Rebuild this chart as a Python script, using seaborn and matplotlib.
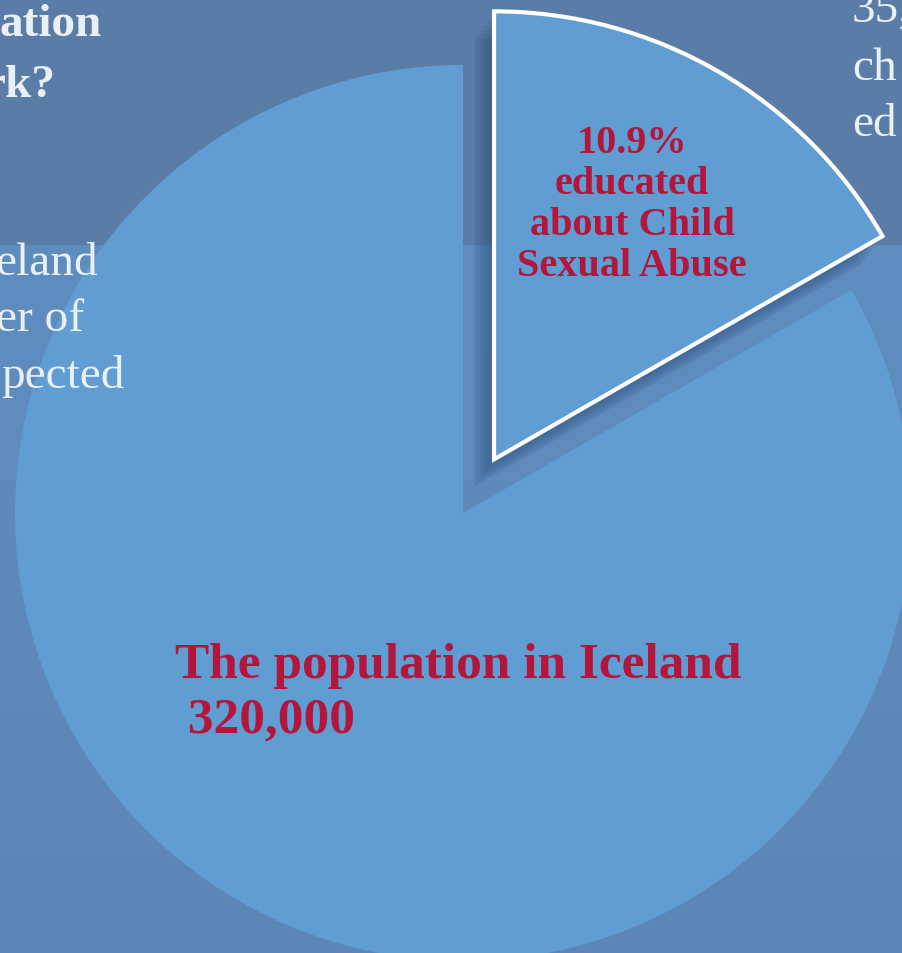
import matplotlib

matplotlib.use("Agg")
import matplotlib.pyplot as plt  # noqa: E402
import matplotlib.colors as mcolors  # noqa: E402
import numpy as np  # noqa: E402
import seaborn as sns  # noqa: E402

# Slice shares as drawn (the cut-out wedge spans about a sixth of the circle)
slice_names = ["educated", "population"]
slice_shares = [16.7, 83.3]
wedge_label = "10.9%\neducated\nabout Child\nSexual Abuse"
main_label = ["The population in Iceland", " 320,000"]

# Fragments of the slide text around the chart (cropped by the frame)
left_heading = ["ation", "rk?"]
left_body = ["eland", "er of", "pected"]
right_body = ["35,", "ch", "ed"]

W, H = 902, 954
BG_TOP = "#5a7da7"
BG_LOW_A = "#5c86b6"
BG_LOW_B = "#5f8dbf"
PIE = "#5f9dd3"
RED = "#b3163a"
LIGHT = "#e9f0f7"

sns.set_theme(style="white")
plt.rcParams["font.family"] = ["Liberation Serif", "DejaVu Serif"]

fig = plt.figure(figsize=(W / 100, H / 100), dpi=100)
ax = fig.add_axes([0, 0, 1, 1])
fig.patch.set_facecolor(BG_TOP)

# lower part of the slide is a bit bluer
grad = np.linspace(0, 1, 200)[:, None]
cmap = mcolors.LinearSegmentedColormap.from_list("bg", [BG_LOW_B, BG_LOW_A])
ax.imshow(grad, extent=(0, W, 0, H - 245), cmap=cmap, aspect="auto", zorder=0)
ax.add_patch(plt.Rectangle((0, H - 245), W, 245, color=BG_TOP, zorder=0.5))

cx, cy, R = 463, H - 514, 448
explode = [62, 0]  # matplotlib uses data units for the offset here

# soft shadow of the pulled-out wedge
for i, a in enumerate([0.06, 0.07, 0.08, 0.09, 0.10, 0.12]):
    d = 5 + 4 * i
    sh, _ = ax.pie(
        slice_shares, radius=R, center=(cx - d * 0.8, cy - d * 1.1), startangle=90,
        counterclock=False, explode=explode, colors=["#1f416a", "none"],
        wedgeprops={"linewidth": 0, "alpha": a}, frame=True,
    )
    for w in sh:
        w.set_zorder(2)

wedges, _ = ax.pie(
    slice_shares, radius=R, center=(cx, cy), startangle=90,
    counterclock=False, explode=explode, colors=[PIE, PIE], frame=True,
    wedgeprops={"linewidth": 0},
)
wedges[1].set_zorder(1)
wedges[0].set_zorder(3)
wedges[0].set_edgecolor("white")
wedges[0].set_linewidth(3)
ax.set_xlim(0, W)
ax.set_ylim(0, H)
ax.set_aspect("equal")
ax.axis("off")

ax.text(632, H - 205, wedge_label, ha="center", va="center", color=RED,
        fontsize=29, fontweight="bold", linespacing=1.15, zorder=5)
for txt, y in zip(main_label, [678, 733]):
    ax.text(175, H - y, txt, ha="left", va="baseline", color=RED,
            fontsize=37, fontweight="bold", zorder=5)

for txt, x, y in zip(left_heading, [102, 56], [36, 97]):
    ax.text(x, H - y, txt, ha="right", va="baseline", color=LIGHT,
            fontsize=34, fontweight="bold", zorder=5, clip_on=True)
for txt, x, y in zip(left_body, [98, 84, 125], [275, 331, 388]):
    ax.text(x, H - y, txt, ha="right", va="baseline", color=LIGHT,
            fontsize=34, zorder=5, clip_on=True)
for txt, x, y in zip(right_body, [852, 852, 852], [22, 80, 136]):
    ax.text(x, H - y, txt, ha="left", va="baseline", color=LIGHT,
            fontsize=34, zorder=5, clip_on=True)

fig.savefig("out.png", dpi=100, facecolor=fig.get_facecolor())
